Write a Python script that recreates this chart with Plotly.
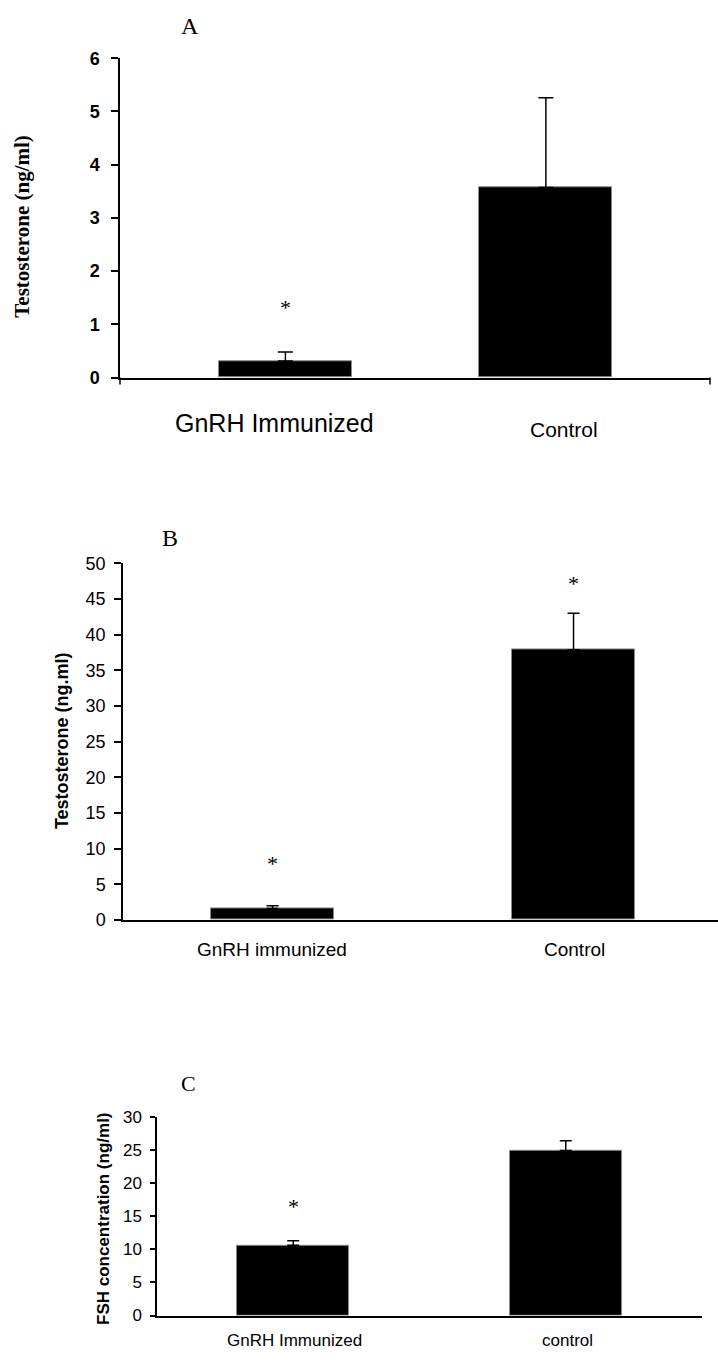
import plotly.graph_objects as go

W, H = 718, 1362

# Panel A: serum testosterone (ng/ml)
a_groups = ["GnRH Immunized", "Control"]
a_mean = [0.31, 3.57]
a_sem = [0.17, 1.69]
a_sig = [True, False]
a_yticks = [0, 1, 2, 3, 4, 5, 6]

# Panel B: testosterone (ng.ml)
b_groups = ["GnRH immunized", "Control"]
b_mean = [1.6, 37.9]
b_sem = [0.4, 5.1]
b_sig = [True, True]
b_yticks = [0, 5, 10, 15, 20, 25, 30, 35, 40, 45, 50]

# Panel C: FSH concentration (ng/ml)
c_groups = ["GnRH Immunized", "control"]
c_mean = [10.6, 24.9]
c_sem = [0.7, 1.5]
c_sig = [True, False]
c_yticks = [0, 5, 10, 15, 20, 25, 30]


def fx(px):
    return px / W


def fy(py):
    return 1 - py / H


SANS = "Liberation Sans, Arial, sans-serif"
SERIF = "Liberation Serif, Times New Roman, serif"

panels = [
    dict(key="", letter="A", groups=a_groups, mean=a_mean, sem=a_sem, sig=a_sig,
         yticks=a_yticks, ymax=6, x0=120, x1=710, ytop=49, ybot=373,
         xrange=[-0.635, 1.63], barw=0.51, cap=7.5, ticklen=7,
         tickfont=dict(family=SANS, size=18, color="black", weight="bold"),
         standoff=8,
         ytitle="Testosterone (ng/ml)",
         ytitle_font=dict(family=SERIF, size=21, color="black", weight="bold"),
         ytitle_pos=(22, 220),
         letter_pos=(190, 16), letter_size=24,
         labels=[dict(size=25, px=274, py=419), dict(size=21, px=564, py=426)],
         star_shift=[44, 42], end_ticks=True),
    dict(key="2", letter="B", groups=b_groups, mean=b_mean, sem=b_sem, sig=b_sig,
         yticks=b_yticks, ymax=50, x0=123, x1=718, ytop=561.7, ybot=923.5,
         xrange=[-0.497, 1.48], barw=0.41, cap=6, ticklen=7,
         tickfont=dict(family=SANS, size=18, color="black"),
         standoff=5,
         ytitle="Testosterone (ng.ml)",
         ytitle_font=dict(family=SANS, size=18, color="black", weight="bold"),
         ytitle_pos=(62, 742),
         letter_pos=(170, 536), letter_size=24,
         labels=[dict(size=19, px=272, py=953), dict(size=19, px=574, py=953)],
         star_shift=[42, 30], end_ticks=False),
    dict(key="3", letter="C", groups=c_groups, mean=c_mean, sem=c_sem, sig=c_sig,
         yticks=c_yticks, ymax=30, x0=157, x1=702, ytop=1123.3, ybot=1325,
         xrange=[-0.5, 1.5], barw=0.41, cap=6, ticklen=5,
         tickfont=dict(family=SANS, size=17, color="black"),
         standoff=5,
         ytitle="FSH concentration (ng/ml)",
         ytitle_font=dict(family=SANS, size=17, color="black", weight="bold"),
         ytitle_pos=(104, 1227),
         letter_pos=(188, 1090), letter_size=22,
         labels=[dict(size=17, px=294, py=1350), dict(size=17, px=567, py=1350)],
         star_shift=[34, 34], end_ticks=False),
]

fig = go.Figure()
annotations = []
shapes = []
layout = {}

for p in panels:
    xa, ya = "x" + p["key"], "y" + p["key"]
    xs = list(range(len(p["groups"])))
    fig.add_trace(go.Bar(
        x=xs, y=p["mean"], width=p["barw"], xaxis=xa, yaxis=ya,
        marker=dict(color="black", line=dict(color="#8a8a8a", width=1)),
        error_y=dict(type="data", array=p["sem"], arrayminus=[0] * len(xs),
                     symmetric=False, color="black", thickness=1.5, width=p["cap"]),
        showlegend=False, hoverinfo="skip",
    ))
    layout["xaxis" + p["key"]] = dict(
        domain=[fx(p["x0"]), fx(p["x1"])], anchor=ya, range=p["xrange"],
        showline=True, linecolor="black", linewidth=1.5, ticks="",
        showticklabels=False, showgrid=False, zeroline=False, fixedrange=True)
    layout["yaxis" + p["key"]] = dict(
        domain=[fy(p["ybot"]), fy(p["ytop"])], anchor=xa, range=[0, p["ymax"]],
        tickmode="array", tickvals=p["yticks"], ticks="outside",
        ticklen=p["ticklen"], tickwidth=1.5, tickcolor="black",
        showline=True, linecolor="black", linewidth=1.5, showgrid=False,
        zeroline=False, tickfont=p["tickfont"], ticklabelstandoff=p["standoff"],
        fixedrange=True)

    # category labels under the bars
    for i, (g, lab) in enumerate(zip(p["groups"], p["labels"])):
        annotations.append(dict(
            x=fx(lab["px"]), y=fy(lab["py"]), xref="paper", yref="paper",
            text=g, showarrow=False, xanchor="center", yanchor="middle",
            font=dict(family=SANS, size=lab["size"], color="black")))

    # significance markers above the error bars
    for i, s in enumerate(p["sig"]):
        if s:
            annotations.append(dict(
                x=i, y=p["mean"][i] + p["sem"][i], xref=xa, yref=ya,
                text="*", showarrow=False, xanchor="center", yanchor="middle",
                yshift=p["star_shift"][i],
                font=dict(family=SERIF, size=22, color="black")))

    # y-axis title
    annotations.append(dict(
        x=fx(p["ytitle_pos"][0]), y=fy(p["ytitle_pos"][1]), xref="paper", yref="paper",
        text=p["ytitle"], textangle=-90, showarrow=False,
        xanchor="center", yanchor="middle", font=p["ytitle_font"]))

    # panel letter
    annotations.append(dict(
        x=fx(p["letter_pos"][0]), y=fy(p["letter_pos"][1]), xref="paper", yref="paper",
        text=p["letter"], showarrow=False, xanchor="center", yanchor="middle",
        font=dict(family=SERIF, size=p["letter_size"], color="black")))

    if p["end_ticks"]:
        for xd in (0, 1):
            shapes.append(dict(
                type="line", xref=xa + " domain", yref="paper",
                x0=xd, x1=xd, y0=fy(p["ybot"]), y1=fy(p["ybot"] + 7),
                line=dict(color="black", width=1.5)))

fig.update_layout(
    width=W, height=H, autosize=False,
    margin=dict(l=0, r=0, t=0, b=0),
    paper_bgcolor="white", plot_bgcolor="white",
    annotations=annotations, shapes=shapes,
    bargap=0, **layout)

fig.write_html("out.html", config={"displayModeBar": False})
